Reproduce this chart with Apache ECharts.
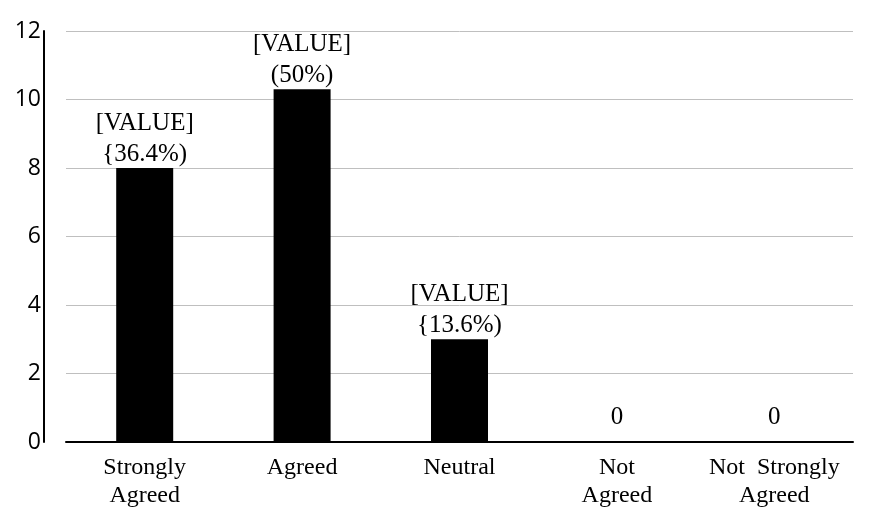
<!DOCTYPE html>
<html>
<head>
<meta charset="utf-8">
<script src="https://cdn.jsdelivr.net/npm/echarts@6/dist/echarts.min.js"></script>
<style>html,body{margin:0;padding:0;background:#fff;}#c{width:875px;height:510px;}</style>
</head>
<body>
<div id="c"></div>
<script>
const categories = ['Strongly\nAgreed', 'Agreed', 'Neutral', 'Not\nAgreed', 'Not  Strongly\nAgreed'];
const values = [8, 10.3, 3, 0, 0];
const pctLabels = ['{36.4%)', '(50%)', '{13.6%)', '', ''];
const yTicks = [0, 2, 4, 6, 8, 10, 12];

const seriesData = values.map(function (v, i) {
  const item = { value: v };
  if (v === 0) item.label = { distance: 9 };
  return item;
});

const chart = echarts.init(document.getElementById('c'));
chart.setOption({
  animation: false,
  backgroundColor: '#fff',
  grid: { left: 66, right: 22, top: 31, bottom: 66, containLabel: false },
  xAxis: {
    type: 'category',
    data: categories,
    axisLine: { show: true, lineStyle: { color: '#000', width: 2 } },
    axisTick: { show: false },
    axisLabel: {
      interval: 0, margin: 12, color: '#000',
      fontFamily: 'Liberation Serif', fontSize: 24, lineHeight: 28,
      verticalAlign: 'top'
    }
  },
  yAxis: {
    type: 'value', min: yTicks[0], max: yTicks[yTicks.length - 1], interval: 2,
    offset: 22,
    axisLine: { show: true, lineStyle: { color: '#000', width: 2 } },
    axisTick: { show: false },
    axisLabel: { color: '#000', fontFamily: 'Open Sans', fontSize: 23, margin: 3 },
    splitLine: { show: true, lineStyle: { color: '#bfbfbf', width: 1 } }
  },
  series: [{
    type: 'bar',
    data: seriesData,
    barWidth: 57,
    itemStyle: { color: '#000' },
    label: {
      show: true, position: 'top', distance: -2,
      color: '#000', fontFamily: 'Liberation Serif', fontSize: 25, lineHeight: 31,
      formatter: function (p) {
        if (p.value === 0) return '0';
        return '[VALUE]\n' + pctLabels[p.dataIndex];
      }
    }
  }]
});
</script>
</body>
</html>
